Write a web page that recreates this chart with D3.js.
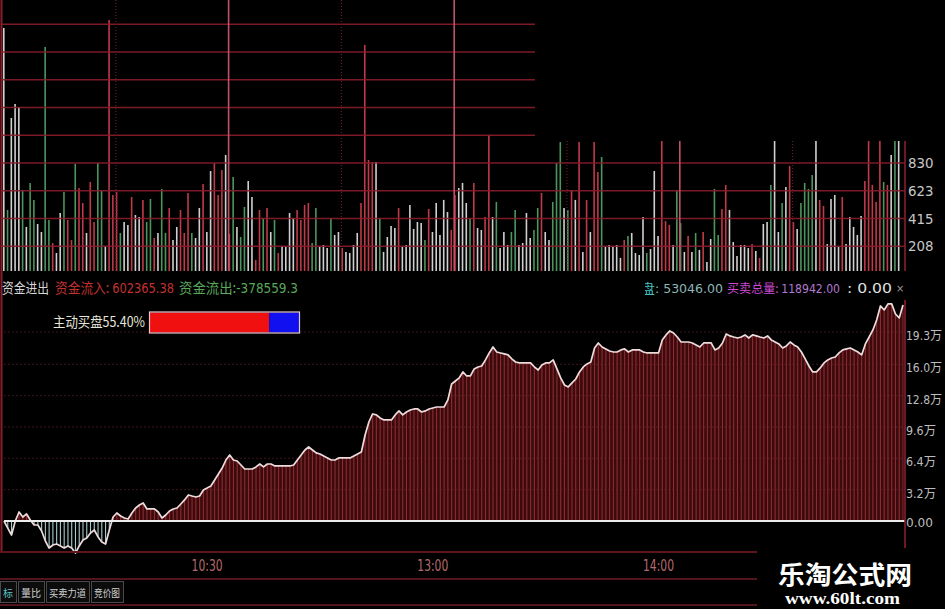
<!DOCTYPE html>
<html><head><meta charset="utf-8">
<script src="https://cdn.jsdelivr.net/npm/d3@7/dist/d3.min.js"></script>
<style>html,body{margin:0;padding:0;background:#000;}svg{display:block}</style>
</head><body>
<svg id="c" width="945" height="609"></svg>
<script>
// ---------- DATA ----------
// per-minute volume (upper panel)
const volumes = [
1840,479,1167,1272,1249,628,352,681,554,374,
314,1698,404,232,157,456,613,404,254,823,
643,531,307,688,389,830,628,209,1900,591,
613,307,389,367,576,441,426,554,389,561,
269,307,636,307,494,254,352,479,307,606,
307,269,494,673,314,770,830,591,778,890,
300,726,352,277,501,696,576,105,479,419,
494,314,404,157,209,202,456,419,479,404,
516,531,232,494,202,217,194,419,292,314,
194,165,157,217,307,531,1713,853,838,838,
419,165,277,359,344,494,202,217,516,337,
389,381,254,486,314,531,292,554,464,329,
591,643,681,531,419,681,344,329,426,1040,
426,539,194,314,217,314,479,217,232,456,
269,329,494,606,314,254,539,830,987,494,
479,628,554,987,165,554,314,987,763,875,
202,217,202,217,120,254,284,307,157,142,
426,157,187,770,284,1500,396,367,217,628,
381,165,284,165,307,180,314,90,262,636,
292,486,666,479,239,135,217,217,194,224,
172,120,374,389,666,1300,314,531,651,808,
389,337,531,681,636,741,1400,554,509,224,
561,591,202,576,224,426,352,292,434,696,
1200,666,539,1250,688,666,890,1350,1450];
// bar colour code: w = flat, g = down, r = up
const volKinds = (
"wgwwwgwggw"+"wggrwwgrrg"+"rrwrrggwrr"+"rgwwrwwrgg"+"rwggrwwrrr"+
"gwwrwwrrrw"+"rgwggwwrrg"+"rwgrwwwwrr"+"rrggwwwgww"+"rwwwwrrrrw"+
"gwwwwrwwww"+"wwgrwwwwwr"+"rwwwgrwwrr"+"wgwwwggwww"+"wggrwwgggw"+
"grwrwrwrrg"+"wwwwwrgwww"+"wgwwwrrrwg"+"gwrwgwrwwg"+"grrwwwwwwr"+
"wrwwgwwgwr"+"rwggggwrrw"+"wwwrwwwwwr"+"rrrrgrwgw").split("");
const volTickVals = [208,415,623,830,1038,1245,1453,1660,1868];
const volTickLabels = ["208","415","623","830","1038"];
const timeGridMins = [30,60,90,120,150,180,210];

// capital flow line (lower panel), unit: 万
const flow = [
0,-0.72,-1.43,0,0.92,0.41,0.72,0.10,-0.41,-0.41,
-1.02,-2.04,-2.76,-2.45,-2.35,-2.55,-2.76,-2.55,-2.76,-3.27,
-2.55,-1.94,-1.74,-1.23,-0.92,-1.63,-2.15,-2.35,-0.92,0.41,
0.82,0.51,0.31,0.20,0.82,1.33,1.63,1.84,1.23,1.23,
1.23,0.92,0.31,0.61,1.02,1.23,1.33,1.74,2.15,2.66,
2.55,2.45,2.55,3.17,3.37,3.58,4.19,4.80,5.41,6.23,
6.74,6.23,6.13,5.72,5.31,5.31,5.31,5.52,5.82,5.52,
5.82,5.82,5.62,5.62,5.62,5.62,5.62,5.72,6.23,6.74,
7.25,7.56,7.25,6.95,6.84,6.64,6.44,6.23,6.23,6.44,
6.44,6.44,6.44,6.64,6.84,7.05,8.78,10.11,10.93,10.83,
10.52,10.32,10.32,10.32,10.83,11.24,10.83,11.13,11.34,11.44,
11.44,11.13,11.24,11.44,11.54,11.64,11.64,11.64,12.36,13.99,
14.30,14.61,15.22,14.81,14.81,15.53,15.73,15.83,16.45,17.16,
17.77,17.26,17.16,17.06,16.96,16.55,16.24,16.14,16.14,16.14,
16.14,15.73,15.42,15.93,16.14,16.14,16.45,15.53,14.61,13.89,
13.69,14.10,14.50,15.22,15.73,16.04,16.24,17.67,18.18,17.77,
17.57,17.36,17.26,17.26,17.47,17.57,17.26,17.47,17.47,17.47,
17.26,17.16,17.16,17.16,17.16,18.49,19.00,19.41,19.20,18.79,
18.28,18.28,18.28,18.18,17.98,17.77,18.18,18.18,18.18,17.47,
17.67,18.18,19.10,18.90,18.79,18.69,18.79,19.00,18.69,19.00,
18.90,18.79,18.69,18.90,18.49,18.28,18.08,17.67,17.88,18.28,
17.98,17.77,17.26,16.55,15.83,15.22,15.22,15.63,16.14,16.45,
16.65,16.75,17.16,17.47,17.57,17.67,17.47,17.26,16.96,18.08,
18.79,19.51,20.53,21.96,21.55,22.17,22.17,21.14,20.74,22.06];
const flowTickVals = [19.3,16.0,12.8,9.6,6.4,3.2,0];
const flowTickLabels = ["19.3万","16.0万","12.8万","9.6万","6.4万","3.2万","0.00"];
const timeLabels = ["10:30","13:00","14:00"];
const timeLabelIdx = [54,114,174];
const tabs = ["标","量比","买卖力道","竞价图"];
const buySplit = [80,20];

// ---------- DRAW ----------
const svg = d3.select("#c");
const NUM = "'Liberation Sans Narrow','DejaVu Sans Condensed','Liberation Sans',sans-serif";
const CJK = "'Noto Sans CJK SC','Noto Sans',sans-serif";
const GRID = "#8a1e2c";
svg.append("rect").attr("width",945).attr("height",609).attr("fill","#000");

// ---- upper volume panel ----
const xV = d3.scaleLinear().domain([0,240]).range([3,905.4]);
const yV = d3.scaleLinear().domain([0,2076]).range([274,-3.6]);
const colorOf = {w:"#d0d0d0", g:"#4c965e", r:"#c03a4a"};
const gV = svg.append("g");
gV.selectAll("line.bar").data(volumes).join("line")
  .attr("x1",(d,i)=>xV(i)+0.8).attr("x2",(d,i)=>xV(i)+0.8)
  .attr("y1",d=>yV(d)).attr("y2",272)
  .attr("stroke",(d,i)=>colorOf[volKinds[i]]).attr("stroke-width",1.6);
gV.selectAll("line.hg").data(volTickVals).join("line")
  .attr("x1",2).attr("x2",905).attr("y1",d=>yV(d)).attr("y2",d=>yV(d))
  .attr("stroke",GRID).attr("stroke-width",1.6).attr("opacity",0.9);
gV.selectAll("line.vg").data(timeGridMins).join("line")
  .attr("x1",d=>xV(d)).attr("x2",d=>xV(d)).attr("y1",0).attr("y2",272)
  .attr("stroke",d=>d%60===0?"#c0506a":"#6a1a26")
  .attr("stroke-width",d=>d%60===0?1.6:1.2)
  .attr("stroke-dasharray",d=>d%60===0?null:"1,2");
gV.append("line").attr("x1",1.5).attr("x2",1.5).attr("y1",0).attr("y2",272).attr("stroke",GRID).attr("stroke-width",2);
gV.selectAll("text.vl").data(volTickLabels).join("text")
  .attr("x",908).attr("y",(d,i)=>yV(volTickVals[i])+5)
  .attr("fill","#c8c8c8").attr("font-family",NUM).attr("font-size",14)
  .attr("textLength",d=>d.length*8.5).attr("lengthAdjust","spacingAndGlyphs")
  .text(d=>d);
// black cover on the top right
svg.append("rect").attr("x",535).attr("y",0).attr("width",410).attr("height",141).attr("fill","#000");
svg.append("line").attr("x1",905).attr("x2",905).attr("y1",141).attr("y2",272).attr("stroke",GRID).attr("stroke-width",1.6);

// ---- lower panel background ----
svg.append("rect").attr("x",0).attr("y",271).attr("width",945).attr("height",338).attr("fill","#000");

// ---- lower flow panel ----
const xB = d3.scaleLinear().domain([0,flow.length-1]).range([4,903]);
const yB = d3.scaleLinear().domain([0,19.3]).range([521,332]);
const gB = svg.append("g");
gB.append("path").datum(flow)
  .attr("d",d3.area().x((d,i)=>xB(i)).y0(yB(0)).y1(d=>yB(Math.max(d,0))))
  .attr("fill","#3a0b0d");
gB.selectAll("line.st").data(flow).join("line")
  .attr("x1",(d,i)=>xB(i)).attr("x2",(d,i)=>xB(i))
  .attr("y1",yB(0)).attr("y2",d=>yB(d))
  .attr("stroke",d=>d>=0?"#8e2a32":"#a8cccc").attr("stroke-width",1.1);
gB.selectAll("line.hg").data(flowTickVals.filter(v=>v>0)).join("line")
  .attr("x1",4).attr("x2",905).attr("y1",d=>yB(d)).attr("y2",d=>yB(d))
  .attr("stroke","#7a2a30").attr("stroke-width",1).attr("stroke-dasharray","2,2").attr("opacity",0.5);
gB.append("path").datum(flow)
  .attr("d",d3.line().x((d,i)=>xB(i)).y(d=>yB(d)))
  .attr("fill","none").attr("stroke","#eedcdc").attr("stroke-width",1.7).attr("stroke-linejoin","round");
gB.append("line").attr("x1",4).attr("x2",905).attr("y1",yB(0)).attr("y2",yB(0)).attr("stroke","#ececec").attr("stroke-width",2);
gB.append("line").attr("x1",905).attr("x2",905).attr("y1",300).attr("y2",552).attr("stroke",GRID).attr("stroke-width",1.6);
gB.append("line").attr("x1",1.5).attr("x2",1.5).attr("y1",271).attr("y2",552).attr("stroke",GRID).attr("stroke-width",2);
gB.selectAll("text.fl").data(flowTickLabels).join("text")
  .attr("x",906).attr("y",(d,i)=>yB(flowTickVals[i])+ (i===6?6:8))
  .attr("fill","#bdbdbd").attr("font-family",NUM+","+CJK).attr("font-size",12.5)
  .attr("textLength",d=>d.length>=5?36:(d!=="0.00"?30:27)).attr("lengthAdjust","spacingAndGlyphs")
  .text(d=>d);

// bottom axis strip
[[552,2,"#5e161c"],[579,1.6,"#6e1c22"],[605,1.6,"#6e1c22"]].forEach(r=>{
  svg.append("line").attr("x1",0).attr("x2",757).attr("y1",r[0]).attr("y2",r[0]).attr("stroke",r[2]).attr("stroke-width",r[1]);
});
svg.selectAll("text.tl").data(timeLabels).join("text")
  .attr("x",(d,i)=>xB(timeLabelIdx[i])).attr("y",571).attr("text-anchor","middle")
  .attr("fill","#b46a6a").attr("font-family",NUM).attr("font-size",15)
  .attr("textLength",31).attr("lengthAdjust","spacingAndGlyphs").text(d=>d);

// tabs
const tabX = [[0,16],[18,44],[46,89],[91,123]];
const gT = svg.append("g");
tabs.forEach((t,i)=>{
  gT.append("rect").attr("x",tabX[i][0]+0.5).attr("y",581.5).attr("width",tabX[i][1]-tabX[i][0]).attr("height",21)
    .attr("fill","#0c0c0c").attr("stroke","#4a4a4a");
  gT.append("text").attr("x",tabX[i][0]+3).attr("y",597)
    .attr("fill",i===0?"#5cc0c0":"#cfcfcf").attr("font-family",CJK).attr("font-size",10)
    .attr("textLength",Math.min(t.length*11, tabX[i][1]-tabX[i][0]-6)).attr("lengthAdjust","spacingAndGlyphs").text(t);
});

// ---- header rows (one text per group, coloured spans) ----
function group(x,y,len,size,parts){
  const t = svg.append("text").attr("x",x).attr("y",y).attr("font-size",size)
    .attr("textLength",len).attr("lengthAdjust","spacingAndGlyphs");
  parts.forEach(p=>t.append("tspan").attr("fill",p[1]).attr("font-family",p[2]).text(p[0]));
  return t;
}
group(2,293,47,14,[["资金进出","#d6d6d6",CJK]]);
group(55,293,119,14,[["资金流入: ","#c23030",CJK],["602365.38","#c23030",NUM]]);
group(179,293,119,14,[["资金流出:","#5aa85c",CJK],["-378559.3","#5aa85c",NUM]]);
group(641,293,82,13,[["盘","#3fc0c0",CJK],[": 53046.00","#8cb6b6",NUM]]);
svg.append("rect").attr("x",620).attr("y",276).attr("width",25).attr("height",22).attr("fill","#000");
group(727,293,113,12.5,[["买卖总量: ","#c848d0",CJK],["118942.00","#b27ad2",NUM]]);
group(847,293,45,14,[[": 0.00","#e0e0e0",NUM]]);
svg.append("text").attr("x",896).attr("y",292).attr("fill","#9a9a9a").attr("font-family",NUM).attr("font-size",11).text("×");
group(53,327,92,14,[["主动买盘55.40%","#e6e6d8",CJK]]);
// buy-ratio bar
const xR = d3.scaleLinear().domain([0,100]).range([150,299]);
svg.append("rect").attr("x",xR(0)).attr("y",312.5).attr("width",xR(buySplit[0])-xR(0)).attr("height",20).attr("fill","#f01010");
svg.append("rect").attr("x",xR(buySplit[0])).attr("y",312.5).attr("width",xR(100)-xR(buySplit[0])).attr("height",20).attr("fill","#1010f0");
svg.append("rect").attr("x",xR(0)-0.5).attr("y",312).attr("width",xR(100)-xR(0)+1).attr("height",21).attr("fill","none").attr("stroke","#e8c8d0").attr("stroke-width",1.2);

// ---- watermark ----
svg.append("rect").attr("x",757).attr("y",548).attr("width",188).attr("height",61).attr("fill","#000");
svg.append("text").attr("x",778).attr("y",584).attr("fill","#ffffff").attr("font-family",CJK).attr("font-size",25)
  .attr("font-weight","bold").attr("textLength",134).attr("lengthAdjust","spacingAndGlyphs").text("乐淘公式网");
svg.append("text").attr("x",785).attr("y",604).attr("fill","#ffffff").attr("font-family","'Liberation Serif','DejaVu Serif',serif")
  .attr("font-weight","bold").attr("font-size",16).attr("textLength",115).attr("lengthAdjust","spacingAndGlyphs").text("www.60lt.com");
</script>
</body></html>
